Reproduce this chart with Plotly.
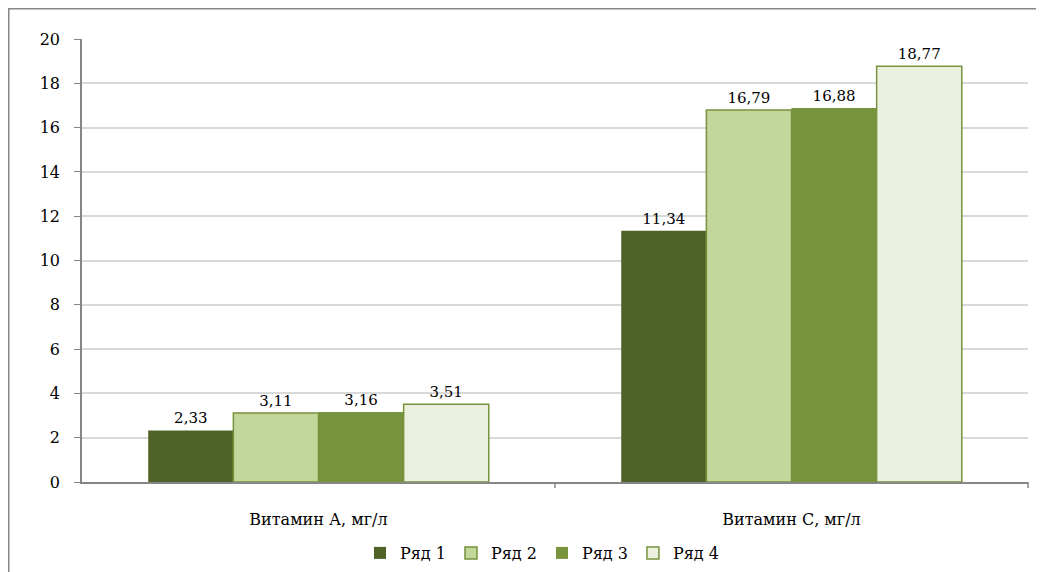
import plotly.graph_objects as go

categories = ["Витамин А, мг/л", "Витамин С, мг/л"]
series_names = ["Ряд 1", "Ряд 2", "Ряд 3", "Ряд 4"]
ryad1 = [2.33, 11.34]
ryad2 = [3.11, 16.79]
ryad3 = [3.16, 16.88]
ryad4 = [3.51, 18.77]
y_ticks = [0, 2, 4, 6, 8, 10, 12, 14, 16, 18, 20]

values = [ryad1, ryad2, ryad3, ryad4]
fills = ["#4F6228", "#C3D69B", "#77933C", "#EBF1DE"]
borders = ["#4F6228", "#77933C", "#77933C", "#77933C"]
bwidth = [0, 1.5, 0, 1.5]

FONT = "DejaVu Serif"

fig = go.Figure()
for name, vals, fc, bc, bw in zip(series_names, values, fills, borders, bwidth):
    fig.add_trace(go.Bar(
        x=categories, y=vals, name=name,
        marker=dict(color=fc, line=dict(color=bc, width=bw)),
        text=[f"{v:.2f}".replace(".", ",") for v in vals],
        textposition="outside", cliponaxis=False,
        textfont=dict(family=FONT, size=15, color="#000000"),
    ))

OFF = 8  # page body margin offset
W, H = 1044 - OFF, 572 - OFF
L, R, T, B = 82 - OFF, 1044 - 1028, 39 - OFF, 572 - 482
pw, ph = W - L - R, H - T - B

def px(x):
    return (x - OFF - L) / pw

def py(y):
    return (H - B - (y - OFF)) / ph

fig.update_layout(
    width=W, height=H,
    margin=dict(l=L, r=R, t=T, b=B, autoexpand=False),
    paper_bgcolor="white", plot_bgcolor="white",
    barmode="group", bargap=0.28, bargroupgap=0,
    font=dict(family=FONT, size=15, color="#000000"),
    showlegend=True,
    legend=dict(orientation="h", x=px(542), xanchor="center",
                yref="container", y=(H - (553 - OFF)) / H, yanchor="middle",
                font=dict(family=FONT, size=16), traceorder="normal"),
    xaxis=dict(showline=True, linecolor="#868686", linewidth=1.5,
               ticks="", showgrid=False, automargin=False,
               tickfont=dict(family=FONT, size=16), ticklabelstandoff=22),
    yaxis=dict(range=[0, 20], tickvals=y_ticks, showline=True, linecolor="#868686",
               linewidth=1.5, ticks="outside", ticklen=6, tickcolor="#868686",
               showgrid=True, gridcolor="#D9D9D9", gridwidth=1.5, zeroline=False,
               automargin=False,
               tickfont=dict(family=FONT, size=16), ticklabelstandoff=11),
    shapes=[
        dict(type="line", xref="paper", yref="paper", x0=px(8.75), x1=px(8.75), y0=py(8), y1=py(590),
             line=dict(color="#868686", width=1.5)),
        dict(type="line", xref="paper", yref="paper", x0=px(8), x1=px(1060), y0=py(8.75), y1=py(8.75),
             line=dict(color="#868686", width=1.5)),
        dict(type="line", xref="paper", yref="paper", x0=0.5, x1=0.5, y0=0, y1=py(488),
             line=dict(color="#868686", width=1.5)),
        dict(type="line", xref="paper", yref="paper", x0=1, x1=1, y0=0, y1=py(488),
             line=dict(color="#868686", width=1.5)),
    ],
)
fig.write_html("out.html")
